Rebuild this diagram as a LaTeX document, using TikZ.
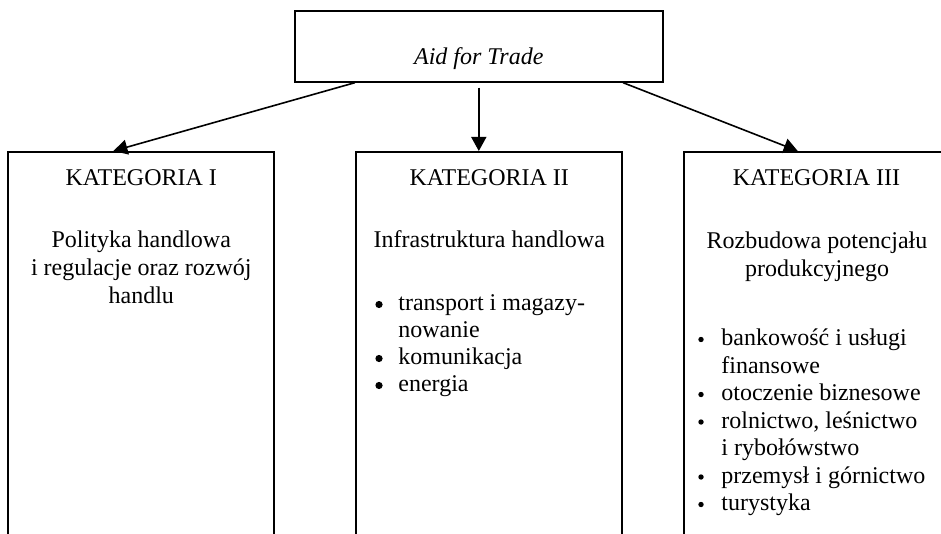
\documentclass[tikz,border=0pt]{standalone}
\usepackage{fontspec}
\setmainfont{Liberation Serif}
\usetikzlibrary{arrows.meta,calc}
\tikzset{
    box/.style={draw,line width=1pt,inner sep=0pt},
    catbox/.style={box,anchor=north,minimum width=133pt,minimum height=240pt},
    conn/.style={line width=0.8pt,-{Triangle[length=7pt,width=7.5pt]}},
    txt/.style={inner sep=0pt,anchor=base,font=\fontsize{12}{13.8}\selectfont},
    item/.style={txt,anchor=base west},
    bigdot/.style={circle,fill,inner sep=0pt,minimum size=3.6pt},
    smalldot/.style={circle,fill,inner sep=0pt,minimum size=2.7pt},
}
\begin{document}
\begin{tikzpicture}[x=0.5pt,y=-0.5pt]
    \useasboundingbox (0,0) rectangle (941,534);
    \clip (0,0) rectangle (941,534);
    \node[box,minimum width=184pt,minimum height=35.3pt] (aid) at (478.8,46.4) {};
    \node[txt] (aidtxt) at (478.8,65) {\textit{Aid for Trade}};
    \begin{scope} % I
        \node[catbox] (cat1) at (141.3,151) {};
        \node[txt] (head1) at (141.3,185) {KATEGORIA I};
        \foreach \t [count=\i] in {Polityka handlowa,i regulacje oraz rozwój,handlu}
            \node[txt] (name1-\i) at (141.3,{247.5+28*(\i-1)}) {\t};
    \end{scope}
    \begin{scope} % II
        \node[catbox] (cat2) at (489.3,151) {};
        \node[txt] (head2) at (489.3,185) {KATEGORIA II};
        \node[txt] (name2) at (489.3,247.5) {Infrastruktura handlowa};
        \foreach \t [count=\i] in {transport i magazy-,nowanie,komunikacja,energia}
            \node[item] (list2-\i) at (398,{310.5+27*(\i-1)}) {\t};
        \foreach \i in {1,3,4}
            \node[bigdot] (dot2-\i) at ($(list2-\i.base west)+(-19,-6)$) {};
    \end{scope}
    \begin{scope} % III
        \node[catbox] (cat3) at (816.5,151) {};
        \node[txt] (head3) at (816.5,185) {KATEGORIA III};
        \foreach \t [count=\i] in {Rozbudowa potencjału,produkcyjnego}
            \node[txt] (name3-\i) at (817,{248.5+28*(\i-1)}) {\t};
        \foreach \t [count=\i] in {bankowość i usługi,finansowe,otoczenie biznesowe,{rolnictwo, leśnictwo},i rybołówstwo,przemysł i górnictwo,turystyka}
            \node[item] (list3-\i) at (721,{345.5+27.5*(\i-1)}) {\t};
        \foreach \i in {1,3,4,6,7}
            \node[smalldot] (dot3-\i) at ($(list3-\i.base west)+(-20,-6)$) {};
    \end{scope}
    \draw[conn] ($(aid.south west)!0.165!(aid.south east)$) -- ($(cat1.north west)!0.396!(cat1.north east)$);
    \draw[conn] ($(aid.south)+(0,5)$) -- (aid.south |- cat2.north);
    \draw[conn] ($(aid.south west)!0.89!(aid.south east)$) -- ($(cat3.north west)!0.43!(cat3.north east)$);
\end{tikzpicture}
\end{document}
